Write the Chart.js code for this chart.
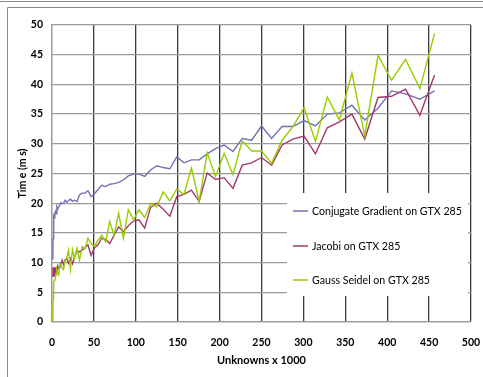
<!DOCTYPE html>
<html>
<head>
<meta charset="utf-8">
<script src="https://cdn.jsdelivr.net/npm/chart.js@4/dist/chart.umd.min.js"></script>
<style>
  html, body { margin: 0; padding: 0; background: #fff; }
  #wrap { width: 483px; height: 377px; position: relative; }
</style>
</head>
<body>
<div id="wrap"><canvas id="timeChart" width="483" height="377"></canvas></div>
<script>
// unknowns (x 1000) for each run
const unknowns = [
  1.0, 1.3, 1.7, 2.2, 2.7, 3.4, 4.1, 4.9, 5.8, 6.9,
  8.0, 9.3, 10.6, 12.2, 13.8, 15.6, 17.6, 19.7, 22.0, 24.4,
  27.0, 29.8, 32.8, 35.9, 39.3, 42.9, 46.7, 50.7, 54.9, 59.3,
  64.0, 68.9, 74.1, 79.5, 85.2, 91.1, 97.3, 103.8, 110.6, 117.6,
  125.0, 132.7, 140.6, 148.9, 157.5, 166.4, 175.6, 185.2, 195.1, 205.4,
  216.0, 227.0, 238.3, 250.0, 262.1, 274.6, 287.5, 300.8, 314.4, 328.5,
  343.0, 357.9, 373.2, 389.0, 405.2, 421.9, 439.0, 456.5
];

// time in ms
const cgTimes = [
  10.5, 14.0, 17.0, 17.8, 17.5, 18.3, 18.6, 18.2, 19.4, 19.0,
  19.4, 19.7, 20.1, 19.9, 20.0, 20.5, 20.2, 20.4, 20.7, 20.3,
  20.5, 20.3, 21.4, 21.7, 21.7, 22.1, 21.1, 21.6, 22.3, 23.0,
  22.8, 23.2, 23.3, 23.5, 23.9, 24.6, 24.9, 24.9, 24.5, 25.6,
  26.3, 26.0, 25.8, 27.8, 26.8, 27.3, 27.3, 28.3, 29.2, 29.8,
  28.7, 30.9, 30.6, 33.0, 30.9, 32.9, 32.9, 33.9, 33.0, 35.0,
  35.2, 36.5, 34.0, 36.0, 38.9, 38.4, 37.5, 38.9
];
const jacobiTimes = [
  7.6, 9.2, 7.6, 8.8, 7.8, 9.2, 7.6, 9.2, 8.0, 9.4,
  9.0, 9.2, 9.8, 10.4, 9.6, 10.5, 10.7, 9.9, 10.7, 9.8,
  11.0, 12.0, 11.8, 12.1, 12.5, 13.0, 11.2, 12.5, 13.0, 14.1,
  13.9, 13.2, 14.6, 16.0, 15.2, 16.2, 17.0, 17.2, 15.8, 19.3,
  20.0, 19.0, 17.8, 21.1, 21.5, 22.2, 20.3, 25.1, 24.0, 24.3,
  22.5, 26.4, 26.8, 27.7, 26.4, 29.8, 30.8, 31.3, 28.3, 32.7,
  33.7, 35.0, 30.8, 37.8, 38.0, 39.2, 34.8, 41.6
];
const gaussTimes = [
  0.0, 4.0, 5.9, 6.5, 7.0, 7.1, 7.5, 8.2, 8.8, 8.2,
  7.9, 9.8, 9.6, 9.0, 8.8, 10.4, 10.8, 12.1, 8.9, 12.2,
  10.7, 12.4, 10.4, 12.7, 12.3, 14.1, 13.2, 12.7, 13.8, 14.6,
  13.5, 16.9, 14.6, 18.3, 14.1, 18.9, 17.2, 18.9, 17.6, 19.9,
  19.4, 21.9, 20.4, 22.4, 21.5, 25.9, 20.3, 28.5, 24.5, 28.4,
  24.8, 30.5, 28.8, 28.8, 26.7, 30.6, 32.9, 36.1, 30.4, 37.9,
  34.0, 41.9, 31.3, 44.9, 40.7, 44.2, 39.3, 48.6
];

const seriesNames = [
  "Conjugate Gradient on GTX 285",
  "Jacobi on GTX 285",
  "Gauss Seidel on GTX 285"
];
const seriesColors = ["#7171b4", "#a3386d", "#99cc00"];

function toPoints(values) {
  return unknowns.map((u, i) => ({ x: u, y: values[i] }));
}

// frame lines around the chart
const framePlugin = {
  id: "frame",
  beforeDraw(chart) {
    const ctx = chart.ctx;
    ctx.save();
    ctx.fillStyle = "#fff";
    ctx.fillRect(0, 0, chart.width, chart.height);
    ctx.strokeStyle = "#8a8a8a";
    ctx.lineWidth = 1;
    ctx.beginPath();
    ctx.moveTo(0, 1.5);
    ctx.lineTo(chart.width, 1.5);
    ctx.moveTo(7.5, 7.5);
    ctx.lineTo(chart.width, 7.5);
    ctx.moveTo(7.5, 7.5);
    ctx.lineTo(7.5, chart.height);
    ctx.stroke();
    ctx.restore();
  }
};

// legend box inside the plot area
const boxLegend = {
  id: "boxLegend",
  afterDatasetsDraw(chart) {
    const ctx = chart.ctx;
    const x0 = 287, y0 = 193, w = 181, h = 103;
    ctx.save();
    ctx.fillStyle = "#fff";
    ctx.fillRect(x0, y0, w, h);
    ctx.font = "10.6px Lato";
    ctx.textBaseline = "middle";
    const rows = [211, 246, 280];
    chart.data.datasets.forEach((ds, i) => {
      ctx.strokeStyle = ds.borderColor;
      ctx.lineWidth = 1.5;
      ctx.beginPath();
      ctx.moveTo(293, rows[i]);
      ctx.lineTo(308, rows[i]);
      ctx.stroke();
      ctx.fillStyle = "#000";
      ctx.fillText(ds.label, 312, rows[i] + 0.5);
    });
    ctx.restore();
  }
};

const ctx = document.getElementById("timeChart").getContext("2d");
new Chart(ctx, {
  type: "line",
  data: {
    datasets: seriesNames.map((name, i) => ({
      label: name,
      data: toPoints([cgTimes, jacobiTimes, gaussTimes][i]),
      borderColor: seriesColors[i],
      backgroundColor: seriesColors[i],
      borderWidth: 1.4,
      pointRadius: 0,
      tension: 0,
      fill: false,
      order: 3 - i,
    })),
  },
  options: {
    responsive: false,
    animation: false,
    layout: { padding: { left: 0, top: 25, right: 12, bottom: 0 } },
    plugins: {
      legend: { display: false },
      tooltip: { enabled: false },
    },
    scales: {
      x: {
        type: "linear",
        min: 0,
        max: 500,
        ticks: {
          stepSize: 50,
          padding: 14,
          color: "#000",
          font: { family: "Lato", size: 10.5, weight: "bold" },
        },
        grid: {
          drawTicks: false,
          color: (c) => (c.index === 0 ? "#9a9a9a" : "#3a3a3a"),
          lineWidth: 1.3,
        },
        border: { color: "#9a9a9a", width: 1.3 },
        title: {
          display: true,
          text: "Unknowns x 1000",
          color: "#000",
          font: { family: "Lato", size: 11, weight: "bold" },
          padding: { top: 0, bottom: 10 },
        },
        afterFit(scale) {
          scale.height = 55;
          scale.paddingLeft = 0;
          scale.paddingRight = 0;
        },
      },
      y: {
        min: 0,
        max: 50,
        ticks: {
          stepSize: 5,
          padding: 9,
          color: "#000",
          font: { family: "Lato", size: 10.5, weight: "bold" },
        },
        grid: {
          drawTicks: false,
          color: "#9a9a9a",
          lineWidth: 1.3,
        },
        border: { color: "#9a9a9a", width: 1.3 },
        title: {
          display: true,
          text: "Tim e (m s)",
          color: "#000",
          font: { family: "Lato", size: 10.5, weight: "bold" },
          padding: { top: 16, bottom: 0 },
        },
        afterFit(scale) { scale.width = 52; },
      },
    },
  },
  plugins: [framePlugin, boxLegend],
});
</script>
</body>
</html>
